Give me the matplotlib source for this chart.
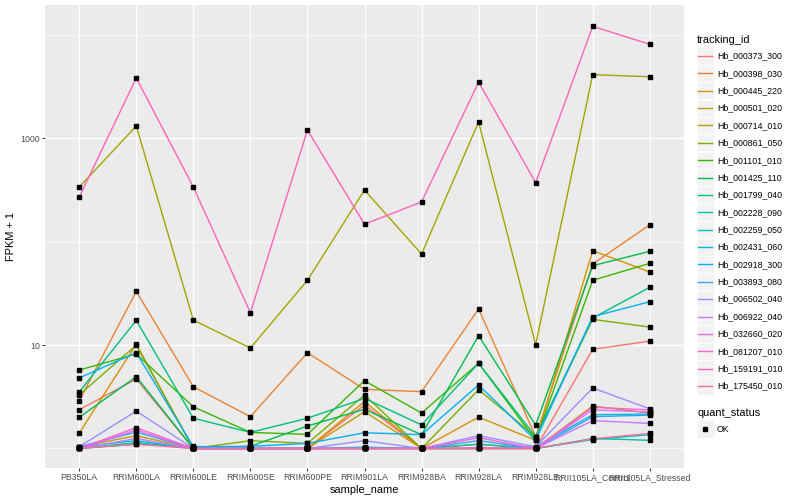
import numpy as np
import matplotlib
matplotlib.use("Agg")
import matplotlib.pyplot as plt
from matplotlib.patches import Rectangle

plt.rcParams["font.family"] = ["Liberation Sans", "DejaVu Sans"]

samples = ["PB350LA", "RRIM600LA", "RRIM600LE", "RRIM600SE", "RRIM600PE",
           "RRIM901LA", "RRIM928BA", "RRIM928LA", "RRIM928LE",
           "RRII105LA_Control", "RRII105LA_Stressed"]

tracking_ids = ["Hb_000373_300", "Hb_000398_030", "Hb_000445_220", "Hb_000501_020",
                "Hb_000714_010", "Hb_000861_050", "Hb_001101_010", "Hb_001425_110",
                "Hb_001799_040", "Hb_002228_090", "Hb_002259_050", "Hb_002431_060",
                "Hb_002918_300", "Hb_003893_080", "Hb_006502_040", "Hb_006922_040",
                "Hb_032660_020", "Hb_081207_010", "Hb_159191_010", "Hb_175450_010"]

# FPKM + 1 per sample, one list per tracking_id
hb_000373_300 = [2.37, 4.69, 1.0, 1.0, 1.0, 2.63, 1.0, 1.0, 1.0, 9.09, 10.9]
hb_000398_030 = [2.9, 33.0, 3.95, 2.03, 8.43, 3.73, 3.54, 22.3, 1.3, 60.7, 145]
hb_000445_220 = [1.41, 10.2, 1.0, 1.0, 1.0, 2.84, 1.0, 2.01, 1.2, 81.5, 50.7]
hb_000501_020 = [1.04, 1.33, 1.0, 1.0, 1.0, 2.27, 1.0, 1.1, 1.0, 2.57, 2.2]
hb_000714_010 = [336, 1306, 17.4, 9.35, 42.2, 314, 75.7, 1430, 10.06, 4090, 3910]
hb_000861_050 = [3.3, 9.95, 1.0, 1.19, 1.12, 3.29, 1.0, 3.7, 1.3, 17.7, 14.9]
hb_001101_010 = [5.73, 8.19, 2.53, 1.43, 1.37, 4.52, 2.2, 6.66, 1.2, 42.2, 61.5]
hb_001425_110 = [2.0, 4.94, 1.0, 1.05, 1.65, 2.39, 1.36, 12.3, 1.68, 58.4, 80.4]
hb_001799_040 = [3.52, 17.3, 1.96, 1.43, 1.96, 3.05, 1.69, 6.66, 1.3, 18.2, 36.1]
hb_002228_090 = [1.0, 1.14, 1.0, 1.0, 1.0, 1.0, 1.0, 1.1, 1.0, 1.25, 1.2]
hb_002259_050 = [1.0, 1.1, 1.05, 1.0, 1.0, 1.03, 1.0, 1.0, 1.0, 1.22, 1.36]
hb_002431_060 = [1.04, 1.19, 1.0, 1.0, 1.0, 1.0, 1.0, 1.0, 1.04, 2.12, 2.15]
hb_002918_300 = [4.8, 8.43, 1.04, 1.05, 1.12, 1.42, 1.36, 4.11, 1.2, 18.8, 26.2]
hb_003893_080 = [1.04, 1.44, 1.0, 1.0, 1.0, 1.0, 1.0, 1.19, 1.0, 2.03, 2.1]
hb_006502_040 = [1.04, 2.30, 1.0, 1.0, 1.0, 1.19, 1.0, 1.33, 1.04, 3.84, 2.42]
hb_006922_040 = [1.0, 1.25, 1.0, 1.0, 1.0, 1.0, 1.0, 1.0, 1.0, 1.86, 1.75]
hb_032660_020 = [1.0, 1.51, 1.0, 1.0, 1.0, 1.0, 1.0, 1.02, 1.0, 2.36, 2.25]
hb_081207_010 = [1.0, 1.59, 1.0, 1.0, 1.0, 1.0, 1.0, 1.27, 1.0, 2.5, 2.36]
hb_159191_010 = [269, 3800, 336, 20.5, 1195, 147, 241, 3470, 370, 12000, 8040]
hb_175450_010 = [1.0, 1.1, 1.0, 1.0, 1.0, 1.0, 1.0, 1.0, 1.0, 1.24, 1.40]

series = [hb_000373_300, hb_000398_030, hb_000445_220, hb_000501_020, hb_000714_010,
          hb_000861_050, hb_001101_010, hb_001425_110, hb_001799_040, hb_002228_090,
          hb_002259_050, hb_002431_060, hb_002918_300, hb_003893_080, hb_006502_040,
          hb_006922_040, hb_032660_020, hb_081207_010, hb_159191_010, hb_175450_010]

# ggplot default hue palette for 20 levels
colors = ["#F8766D", "#EA8331", "#D89000", "#C09B00", "#A3A500", "#7CAE00", "#39B600",
          "#00BB4E", "#00BF7D", "#00C1A3", "#00BFC4", "#00BAE0", "#00B0F6", "#35A2FF",
          "#9590FF", "#C77CFF", "#E76BF3", "#FA62DB", "#FF62BC", "#FF6C91"]

fig = plt.figure(figsize=(8, 5), dpi=100)
ax = fig.add_axes([45 / 800, 1 - 468 / 500, (684 - 45) / 800, (468 - 5) / 500])
ax.set_facecolor("#EBEBEB")
for s in ax.spines.values():
    s.set_visible(False)

x = np.arange(len(samples))
for vals, c in zip(series, colors):
    ax.plot(x, vals, color=c, lw=1.0, zorder=3)
for vals in series:
    ax.plot(x, vals, ls="none", marker="s", ms=2.8, color="black", zorder=4)

ax.set_yscale("log")
ax.set_ylim(0.648, 19280)
ax.set_xlim(-0.6, len(samples) - 1 + 0.6)

ax.set_yticks([10, 1000])
ax.set_yticklabels(["10", "1000"])
ax.set_yticks([1, 100, 10000], minor=True)
ax.yaxis.set_minor_formatter(matplotlib.ticker.NullFormatter())
ax.set_xticks(x)
ax.set_xticklabels(samples)

ax.grid(True, which="major", color="white", lw=1.0, zorder=1)
ax.grid(True, which="minor", axis="y", color="white", lw=0.5, zorder=1)
ax.set_axisbelow(True)
ax.tick_params(axis="both", which="major", length=2.0, width=0.7, color="#333333",
               labelsize=6.3, labelcolor="#4D4D4D", pad=1.6)
ax.tick_params(axis="y", which="minor", length=0)

ax.set_xlabel("sample_name", fontsize=7.9, labelpad=2)
ax.set_ylabel("FPKM + 1", fontsize=7.9, labelpad=3)

# legend drawn in pixel coordinates
leg = fig.add_axes([0, 0, 1, 1], facecolor="none")
leg.set_xlim(0, 800)
leg.set_ylim(500, 0)
leg.axis("off")

leg.text(697, 40, "tracking_id", fontsize=7.9, va="center", ha="left")
step = 17.37
for i, (name, c) in enumerate(zip(tracking_ids, colors)):
    yc = 56 + i * step
    leg.add_patch(Rectangle((696.5, yc - 8.6), 17.3, 17.2, facecolor="#F2F2F2",
                            edgecolor="white", lw=0.6))
    leg.plot([698, 712], [yc, yc], color=c, lw=1.0)
    leg.text(717, yc, name, fontsize=6.3, va="center", ha="left")

leg.text(697, 413, "quant_status", fontsize=7.9, va="center", ha="left")
leg.add_patch(Rectangle((696.5, 429 - 8.6), 17.3, 17.2, facecolor="#F2F2F2",
                        edgecolor="white", lw=0.6))
leg.plot([705], [429], marker="s", ms=2.8, color="black")
leg.text(717, 429, "OK", fontsize=6.3, va="center", ha="left")

fig.savefig("out.png", dpi=100)
